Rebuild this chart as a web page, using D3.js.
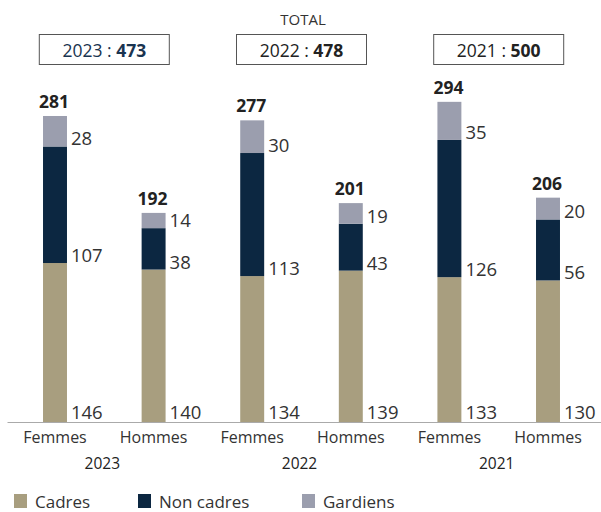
<!DOCTYPE html>
<html><head><meta charset="utf-8">
<script src="https://cdn.jsdelivr.net/npm/d3@7"></script>
<style>
body{margin:0;background:#fff;}
text{font-family:"Open Sans","Noto Sans",sans-serif;}
</style></head>
<body><svg id="c" width="601" height="512"></svg>
<script>
const years = ["2023","2022","2021"];
const genders = ["Femmes","Hommes"];
const yearTotals = [473, 478, 500];
const seriesNames = ["Cadres","Non cadres","Gardiens"];
const cadres    = [146, 140, 134, 139, 133, 130];
const nonCadres = [107, 38, 113, 43, 126, 56];
const gardiens  = [28, 14, 30, 19, 35, 20];
const colors = ["#a89e7f","#0c2741","#9b9eae"];

const rows = [];
years.forEach((yr,i)=>genders.forEach((g,j)=>{
  const k=i*2+j;
  rows.push({key:yr+"-"+g, year:yr, gender:g, Cadres:cadres[k], "Non cadres":nonCadres[k], Gardiens:gardiens[k]});
}));
const stacked = d3.stack().keys(seriesNames)(rows);

const svg = d3.select("#c");
const x = d3.scaleBand().domain(rows.map(d=>d.key)).range([5.7,597.3]).paddingInner(0.757).paddingOuter(0.3785);
const y = d3.scaleLinear().domain([0,300]).range([422,95.3]);

// header
svg.append("text").attr("x",303).attr("y",25).attr("text-anchor","middle")
  .attr("font-size",15).attr("fill","#333").text("TOTAL");
const boxCenters = years.map((yr,i)=> (x(yr+"-Femmes")+x(yr+"-Hommes")+x.bandwidth())/2);
years.forEach((yr,i)=>{
  const cx = boxCenters[i];
  svg.append("rect").attr("x",cx-65).attr("y",34.5).attr("width",130).attr("height",30)
    .attr("fill","none").attr("stroke","#555").attr("stroke-width",1);
  const col = i===0 ? "#1a3450" : "#222";
  const t = svg.append("text").attr("x",cx).attr("y",57).attr("text-anchor","middle")
    .attr("font-size",17.5).attr("fill",col);
  t.append("tspan").text(yr+" : ");
  t.append("tspan").attr("font-weight",700).text(yearTotals[i]);
});

// bars
stacked.forEach((s,si)=>{
  svg.append("g").selectAll("rect").data(s).join("rect")
    .attr("x",d=>x(d.data.key)).attr("width",x.bandwidth())
    .attr("y",d=>y(d[1])).attr("height",d=>y(d[0])-y(d[1]))
    .attr("fill",colors[si]);
  svg.append("g").selectAll("text").data(s).join("text")
    .attr("x",d=>x(d.data.key)+x.bandwidth()+4)
    .attr("y",d=>y(d[0])-(si===0?3:1))
    .attr("font-size",18.5).attr("fill","#333")
    .text(d=>d[1]-d[0]);
});
// totals
const topSeries = stacked[stacked.length-1];
svg.append("g").selectAll("text").data(topSeries).join("text")
  .attr("x",d=>x(d.data.key)+x.bandwidth()/2-1).attr("y",d=>y(d[1])-8)
  .attr("text-anchor","middle").attr("font-size",17.5).attr("font-weight",700).attr("fill","#222")
  .text(d=>d[1]);

// axis
const ax = svg.append("g").attr("transform","translate(0,422)")
  .call(d3.axisBottom(x).tickSize(0).tickPadding(0).tickFormat(k=>k.split("-")[1]));
ax.select(".domain").attr("d","M7.5,0.5H601").attr("stroke","#aaa");
ax.selectAll(".tick text").attr("dy",null).attr("y",21).attr("font-size",16).attr("fill","#333")
  .attr("font-family","'Open Sans','Noto Sans',sans-serif");
years.forEach((yr,i)=>{
  svg.append("text").attr("x",boxCenters[i]-2).attr("y",469).attr("text-anchor","middle")
    .attr("font-size",15.5).attr("fill","#222").text(yr);
});

// legend
const legX = [14,138,302];
seriesNames.forEach((n,i)=>{
  svg.append("rect").attr("x",legX[i]).attr("y",494).attr("width",13).attr("height",14).attr("fill",colors[i]);
  svg.append("text").attr("x",legX[i]+21).attr("y",508).attr("font-size",17).attr("fill","#333").text(n);
});
</script></body></html>
